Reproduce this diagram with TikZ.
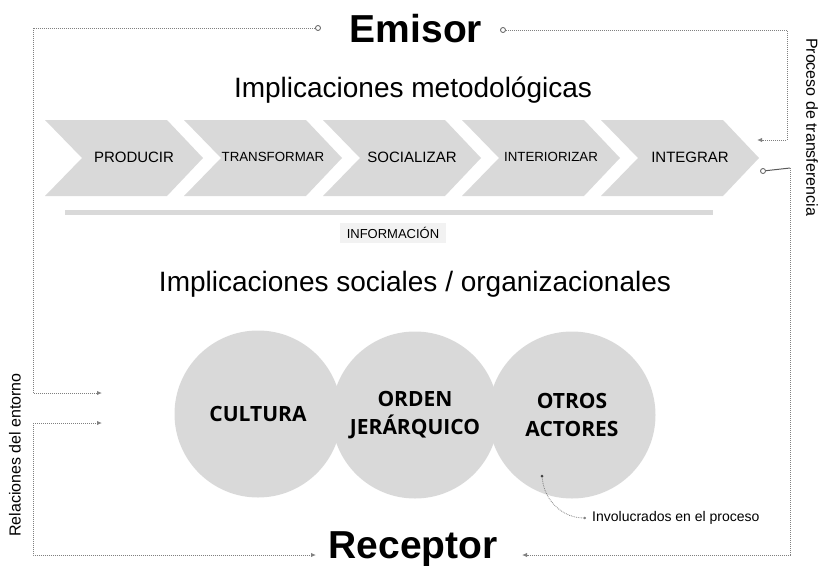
\documentclass[tikz,border=0pt]{standalone}
\usepackage{fontspec}
\setmainfont{Liberation Sans}
\newfontfamily\bubblefont{Open Sans}
\usetikzlibrary{arrows.meta}
\tikzset{
  title/.style     = {font=\bfseries\fontsize{39}{39}\selectfont, inner sep=0pt},
  heading/.style   = {font=\fontsize{28}{28}\selectfont, inner sep=0pt, anchor=base},
  steptext/.style  = {font=\fontsize{15}{15}\selectfont, inner sep=0pt},
  smallstep/.style = {steptext, font=\fontsize{13.3}{13.3}\selectfont},
  bubble/.style    = {circle, fill=gray!30, minimum size=167pt, inner sep=0pt,
                      align=center, font=\bubblefont\bfseries\fontsize{21}{28}\selectfont},
  side/.style      = {font=\fontsize{16}{16}\selectfont, inner sep=0pt},
  link/.style      = {draw=gray, densely dotted, line width=1pt},
  tip/.style       = {-{Latex[length=5pt,width=4.5pt]}},
  ring/.style      = {circle, draw=gray!70!black, line width=0.8pt, inner sep=0pt,
                      minimum size=5pt}
}
\begin{document}
\begin{tikzpicture}[x=1pt,y=-1pt]
  \useasboundingbox (0,0) rectangle (822,565);

  % titles
  \node[title] (emisor) at (416,29) {Emisor};
  \node[title, anchor=base] (receptor) at (413,558) {Receptor};
  \node[heading] (metodo) at (413,97) {Implicaciones metodológicas};
  \node[heading] (social) at (415,291) {Implicaciones sociales / organizacionales};

  % chevrons
  \foreach \x/\lbl/\txt/\sty in {45/producir/PRODUCIR/steptext,
      184/transformar/TRANSFORMAR/smallstep, 323/socializar/SOCIALIZAR/steptext,
      462/interiorizar/INTERIORIZAR/smallstep, 601/integrar/INTEGRAR/steptext}{
    \fill[gray!30] (\x,120) -- ++(122,0) -- ++(36,38) -- ++(-36,38)
      -- ++(-122,0) -- ++(37,-38) -- cycle;
    \node[\sty] (\lbl) at (\x+89,157) {\txt};
  }

  \draw[gray!30, line width=5pt] (65,212) -- (713,212);
  \node[fill=gray!10, font=\fontsize{13}{13}\selectfont, inner xsep=7pt,
        inner ysep=4.5pt] (info) at (393,233) {INFORMACIÓN};

  % circles
  \node[bubble] (cultura) at (258,414) {CULTURA};
  \node[bubble] (orden) at (415,415) {ORDEN\\JERÁRQUICO};
  \node[bubble] (otros) at (572,415) {OTROS\\ACTORES};

  % side labels
  \node[side, rotate=-90] (proceso) at (812,127) {Proceso de transferencia};
  \node[side, rotate=90] (relaciones) at (15,455) {Relaciones del entorno};

  % left connectors
  \node[ring] (emL) at (318,28) {};
  \coordinate (rel1) at (102,393);
  \coordinate (rel2) at (102,423);
  \coordinate (recL) at (316,555);
  \draw[link, tip] (emL) -- (33,28) |- (rel1);
  \draw[link, {Latex[length=5pt,width=4.5pt]}-{Latex[length=5pt,width=4.5pt]}]
    (rel2) -| (33,555) -- (recL);

  % right connectors
  \node[ring] (emR) at (503,30) {};
  \node[ring] (intR) at (763,171) {};
  \coordinate (tr1) at (757,140);
  \coordinate (tr2) at (790,168);
  \coordinate (recR) at (522,555);
  \draw[link, tip] (emR) -- (787,30) |- (tr1);
  \draw[gray!70!black, line width=1pt] (intR) -- (tr2);
  \draw[link, tip] (tr2) |- (recR);

  % note
  \node[circle, fill=black!75, inner sep=0pt, minimum size=3pt] (dot) at (542,476) {};
  \node[font=\fontsize{14}{14}\selectfont, anchor=west, inner sep=0pt]
    (invol) at (592,518) {Involucrados en el proceso};
  \draw[gray, densely dotted, line width=0.8pt, -{Circle[length=2.5pt]}]
    (dot) to[out=-85, in=180] ([xshift=-6pt]invol.west);
\end{tikzpicture}
\end{document}
